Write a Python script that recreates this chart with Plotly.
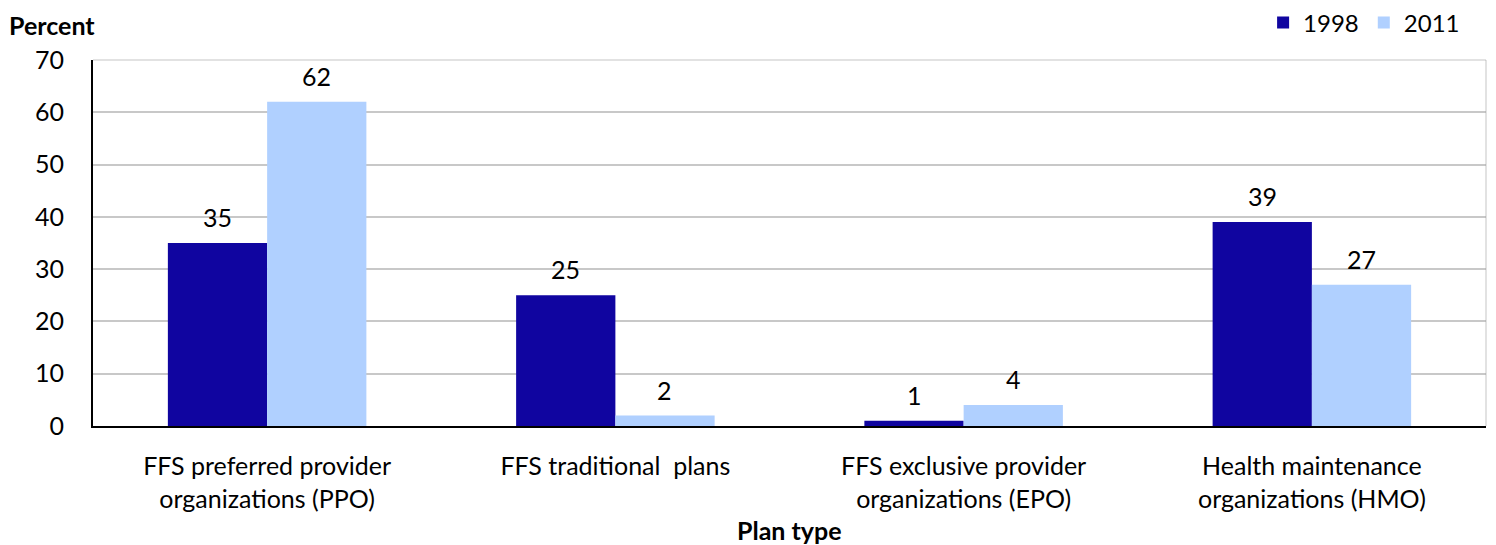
import plotly.graph_objects as go

categories = ["FFS preferred provider<br>organizations (PPO)",
              "FFS traditional  plans",
              "FFS exclusive provider<br>organizations (EPO)",
              "Health maintenance<br>organizations (HMO)"]
values_1998 = [35, 25, 1, 39]
values_2011 = [62, 2, 4, 27]
y_ticks = [0, 10, 20, 30, 40, 50, 60, 70]

FONT = "Lato"
FS = 25
W, H = 1486, 537          # page body has an 8px margin
ML, MT, MR, MB = 85, 52, 8, 119
plot_h = H - MT - MB
plot_w = W - ML - MR
bar_px = 99

fig = go.Figure()
fig.add_trace(go.Bar(name="1998", x=categories, y=values_1998, marker_color="#1005A0",
                     marker_line_width=0))
fig.add_trace(go.Bar(name="2011", x=categories, y=values_2011, marker_color="#B0D0FF",
                     marker_line_width=0))

annotations = []
for vals, shift in ((values_1998, -bar_px / 2), (values_2011, bar_px / 2)):
    for c, v in zip(categories, vals):
        annotations.append(dict(x=c, y=v, xref="x", yref="y", text=str(v), showarrow=False,
                                xshift=shift, yshift=26, yanchor="middle",
                                font=dict(size=FS, color="black")))
annotations += [
    dict(text="<b>Percent</b>", xref="paper", yref="paper", x=-0.062,
         xanchor="left", y=1 + 35 / plot_h, yanchor="middle", showarrow=False,
         font=dict(size=FS)),
    dict(text="<b>Plan type</b>", xref="paper", yref="paper", x=0.5,
         xanchor="center", y=-104 / plot_h, yanchor="middle", showarrow=False,
         font=dict(size=FS)),
]

fig.update_layout(
    template="simple_white",
    width=W, height=H,
    margin=dict(l=ML, r=MR, t=MT, b=MB),
    barmode="group", bargap=0.43, bargroupgap=0,
    plot_bgcolor="white", paper_bgcolor="white",
    font=dict(family=FONT, size=FS, color="black"),
    legend=dict(orientation="h", x=0.985, xanchor="right", y=1 - 15 / H, yanchor="middle",
                yref="container", font=dict(size=24), itemwidth=30,
                bgcolor="rgba(0,0,0,0)"),
    xaxis=dict(showline=True, linecolor="black", linewidth=2, tickfont=dict(size=FS),
               ticks="", ticklabelstandoff=17, showgrid=False, automargin=False),
    yaxis=dict(range=[0, 70], tickvals=y_ticks, showline=True, linecolor="black", linewidth=2,
               showgrid=True, gridcolor="#C8C8C8", gridwidth=1.5, tickfont=dict(size=FS),
               ticks="", ticklabelstandoff=22, zeroline=False, automargin=False),
    shapes=[
        dict(type="line", xref="paper", yref="paper", x0=0, x1=1, y0=1, y1=1,
             line=dict(color="#A0A0A0", width=2)),
        dict(type="line", xref="paper", yref="paper", x0=1, x1=1, y0=0, y1=1,
             line=dict(color="#A0A0A0", width=2)),
    ],
    annotations=annotations,
)
fig.write_html("out.html")
